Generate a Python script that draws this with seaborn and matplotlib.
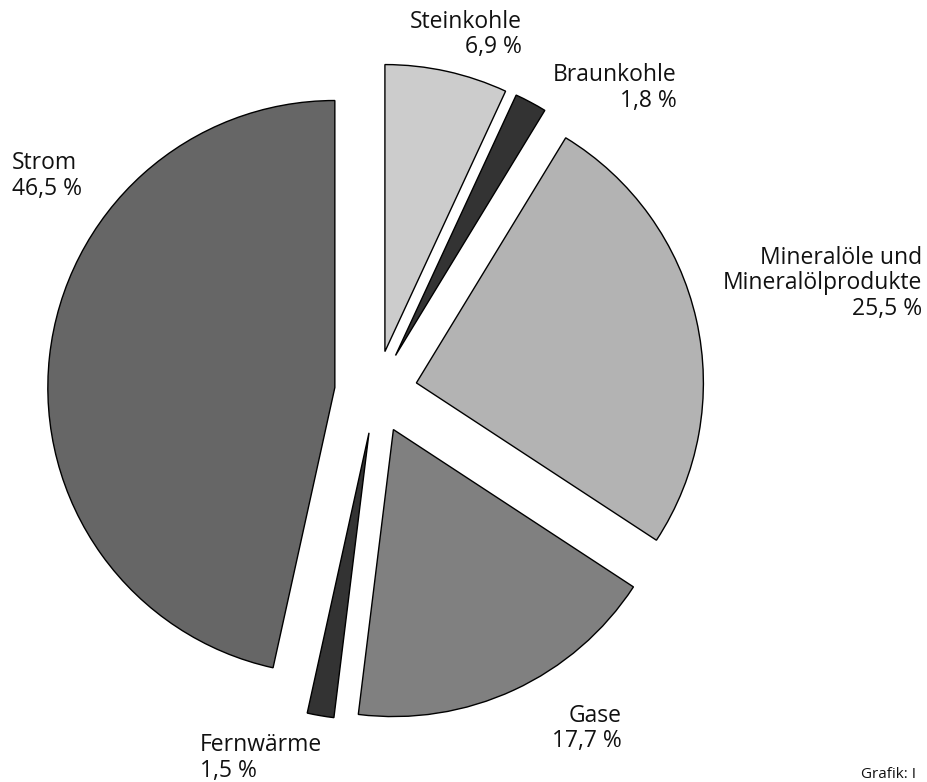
import matplotlib
matplotlib.use("Agg")
import matplotlib.pyplot as plt
import seaborn as sns

categories = ["Steinkohle", "Braunkohle", "Mineralöle und\nMineralölprodukte", "Gase", "Fernwärme", "Strom"]
values = [6.9, 1.8, 25.5, 17.7, 1.5, 46.5]
value_labels = ["6,9 %", "1,8 %", "25,5 %", "17,7 %", "1,5 %", "46,5 %"]
colors = ["#cccccc", "#333333", "#b3b3b3", "#808080", "#333333", "#666666"]

sns.set_theme(style="white")
plt.rcParams['font.family'] = ['Open Sans', 'DejaVu Sans']

W, H = 928, 782
fig = plt.figure(figsize=(W / 100, H / 100), dpi=100)
ax = fig.add_axes([0, 0, 1, 1])

radius = 287
ax.pie(values, colors=colors, startangle=90, counterclock=False,
       center=(376, H - 392), radius=radius, explode=[41.4] * len(values),
       wedgeprops=dict(edgecolor="black", linewidth=1.0), frame=True)
ax.set_xlim(0, W)
ax.set_ylim(0, H)
ax.set_aspect("equal")
ax.axis("off")

# label positions (pixel coords from top) and alignment
label_pos = [
    (522, 22, "right"),
    (677, 75, "right"),
    (922, 258, "right"),
    (622, 716, "right"),
    (200, 745, "left"),
    (12, 163, "left"),
]
lh = 25.5
fs = 16.5
for cat, vl, (x, y, ha) in zip(categories, value_labels, label_pos):
    lines = cat.split("\n") + [vl]
    for i, ln in enumerate(lines):
        ax.text(x, H - (y + i * lh), ln, ha=ha, va="center", fontsize=fs, color="#111111")

ax.text(861, H - 774, "Grafik: I", ha="left", va="center", fontsize=11, color="#111111")

fig.savefig("out.png", dpi=100)
